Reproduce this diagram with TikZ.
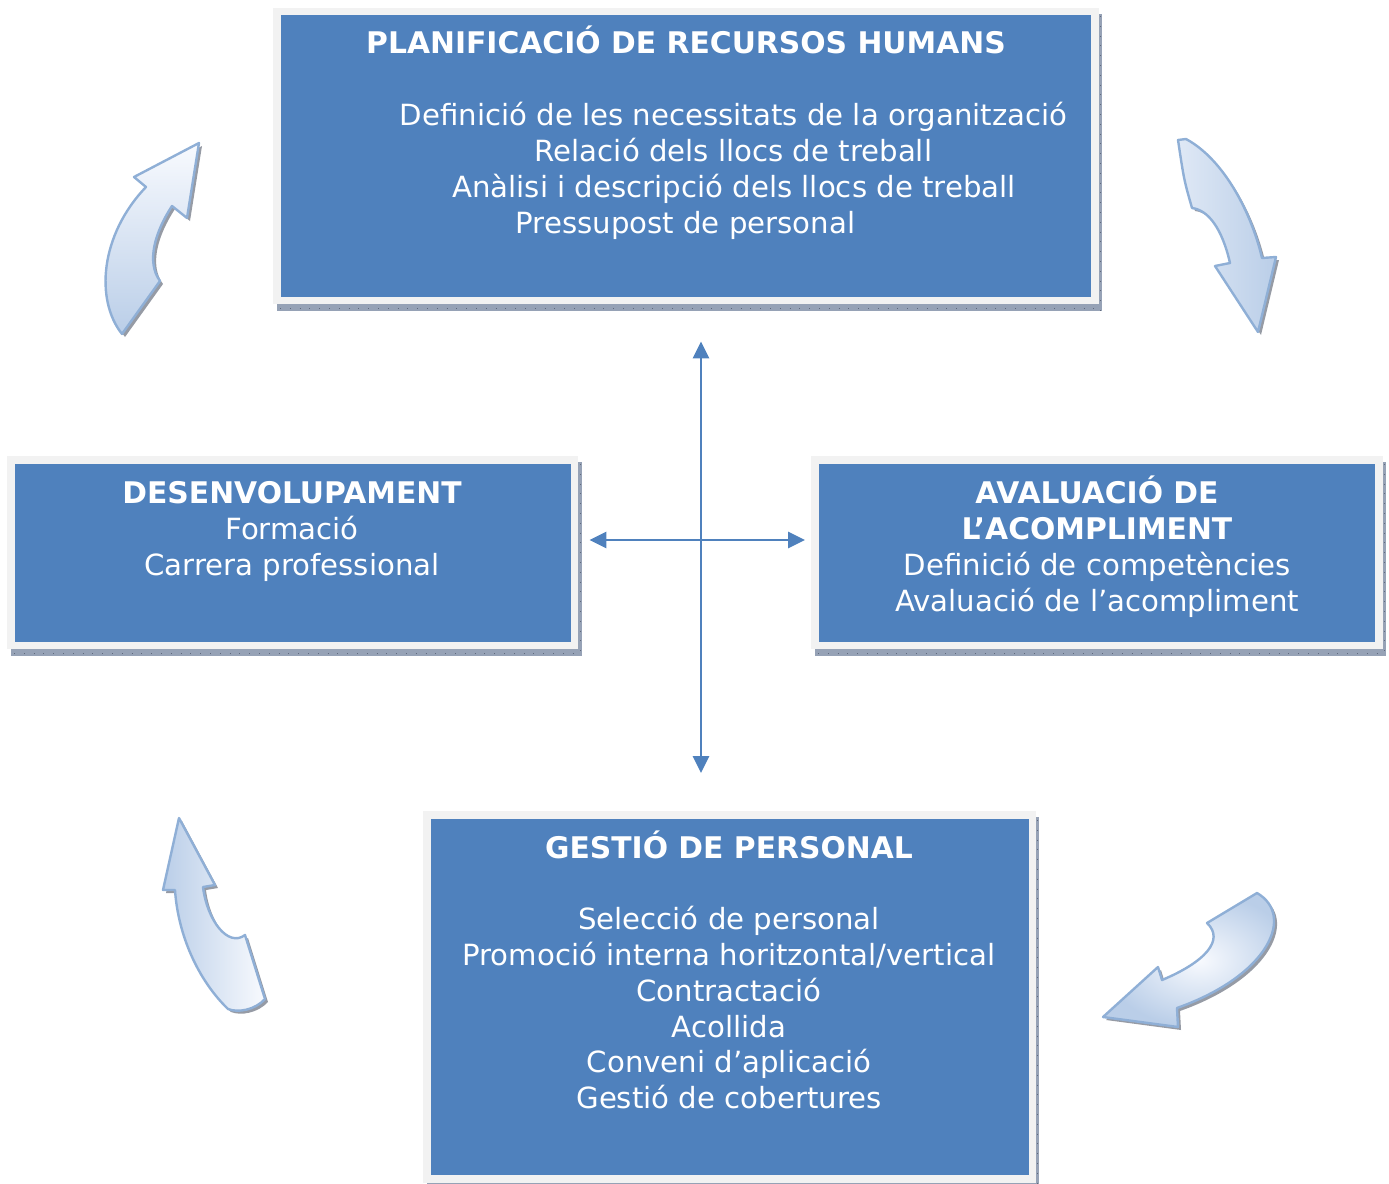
\documentclass[tikz,border=0pt]{standalone}
\usepackage{fontspec}
\setmainfont{DejaVu Sans}
\usetikzlibrary{arrows.meta}
\definecolor{boxblue}{HTML}{4F81BD}
\definecolor{framegray}{HTML}{F2F2F2}
\definecolor{shadowblue}{RGB}{150,162,182}
\definecolor{shadowtick}{RGB}{95,105,125}
\definecolor{arrowedge}{RGB}{143,175,214}
\definecolor{arrowlight}{RGB}{248,250,254}
\definecolor{arrowdark}{RGB}{186,206,232}
\definecolor{arrowshade}{RGB}{150,155,165}
\tikzset{
  frame/.style={fill=framegray},
  boxshadow/.style={fill=shadowblue},
  ticks/.style={draw=shadowtick, line width=0.8pt, dash pattern=on 0.8pt off 9pt},
  bluebox/.style={fill=boxblue, draw=none, inner sep=0pt},
  txt/.style={text=white, anchor=base, inner sep=0pt, font=\fontsize{29.2}{36}\selectfont},
  ttl/.style={txt, font=\bfseries\fontsize{29.8}{36}\selectfont},
  link/.style={draw=boxblue, line width=2.8pt, {Triangle[length=17pt,width=16pt]}-{Triangle[length=17pt,width=16pt]}},
  blockarrow/.style={draw=arrowedge, line width=2.4pt, line join=round},
  arrowshadow/.style={fill=arrowshade},
  % curved block arrows
  curveA/.style={insert path={(199,143) -- (134,177) -- (146,187)
      .. controls (100,235) and (95,300) .. (122,334)
      -- (160,281) .. controls (146,262) and (155,232) .. (172,206)
      -- (187,218) -- cycle}},
  curveB/.style={insert path={(1178,140) -- (1186,139)
      .. controls (1225,160) and (1252,215) .. (1262,258)
      -- (1276,257) -- (1258,332) -- (1215,266) -- (1230,263)
      .. controls (1222,228) and (1208,210) .. (1192,208)
      .. controls (1184,180) .. (1178,140) -- cycle}},
  curveC/.style={insert path={(179,818) -- (215,885) -- (203,887)
      .. controls (207,920) and (228,948) .. (245,935)
      -- (265,999) .. controls (255,1010) and (238,1013) .. (228,1009)
      .. controls (198,980) and (178,935) .. (175,890)
      -- (163,890) -- cycle}},
  curveD/.style={insert path={(1103,1017) -- (1158,967) -- (1162,980)
      .. controls (1205,962) and (1225,940) .. (1207,923)
      -- (1257,893) .. controls (1295,915) and (1270,975) .. (1177,1008)
      -- (1178,1027) -- cycle}},
}
\begin{document}
\begin{tikzpicture}[x=1pt,y=-1pt]
\useasboundingbox (0,0) rectangle (1389,1183);

% ---- boxes: textured shadow, light frame, blue panel ----
% planning
\fill[boxshadow] (277,14) rectangle (1102,311);
\draw[ticks] (280,308) -- (1102,308);
\draw[ticks] (1100.5,16) -- (1100.5,311);
\fill[frame] (273,8) rectangle (1099,304);
\node[bluebox, minimum width=810pt, minimum height=282pt, anchor=north west] (plan) at (281,15) {};
% development
\fill[boxshadow] (11,462) rectangle (582,656);
\draw[ticks] (14,653) -- (582,653);
\draw[ticks] (580,464) -- (580,656);
\fill[frame] (7,456) rectangle (578,649);
\node[bluebox, minimum width=556pt, minimum height=178pt, anchor=north west] (dev) at (15,464) {};
% performance evaluation
\fill[boxshadow] (815,462) rectangle (1386,656);
\draw[ticks] (818,653) -- (1386,653);
\draw[ticks] (1384.5,464) -- (1384.5,656);
\fill[frame] (811,456) rectangle (1383,649);
\node[bluebox, minimum width=556pt, minimum height=178pt, anchor=north west] (aval) at (819,464) {};
% staff management
\fill[boxshadow] (427,817) rectangle (1039,1190);
\draw[ticks] (1037.5,820) -- (1037.5,1183);
\fill[frame] (423,811) rectangle (1036,1183);
\node[bluebox, minimum width=598pt, minimum height=356pt, anchor=north west] (gest) at (431,819) {};

% ---- texts ----
\node[ttl] (plan-t) at (686,53) {PLANIFICACIÓ DE RECURSOS HUMANS};
\node[txt] (plan-1) at (733.5,125) {Definició de les necessitats de la organització};
\node[txt] (plan-2) at (733.5,161) {Relació dels llocs de treball};
\node[txt] (plan-3) at (734,197) {Anàlisi i descripció dels llocs de treball};
\node[txt] (plan-4) at (685.5,233) {Pressupost de personal};

\node[ttl] (dev-t) at (292,503) {DESENVOLUPAMENT};
\node[txt] (dev-1) at (292,539) {Formació};
\node[txt] (dev-2) at (292,575) {Carrera professional};

\node[ttl] (aval-t) at (1097,503) {AVALUACIÓ DE};
\node[ttl] (aval-t2) at (1097,539) {L’ACOMPLIMENT};
\node[txt] (aval-1) at (1097,575) {Definició de competències};
\node[txt] (aval-2) at (1097,611) {Avaluació de l’acompliment};

\node[ttl] (gest-t) at (729,858) {GESTIÓ DE PERSONAL};
\node[txt] (gest-1) at (729,929) {Selecció de personal};
\node[txt] (gest-2) at (729,965) {Promoció interna horitzontal/vertical};
\node[txt] (gest-3) at (729,1001) {Contractació};
\node[txt] (gest-4) at (729,1037) {Acollida};
\node[txt] (gest-5) at (729,1072) {Conveni d’aplicació};
\node[txt] (gest-6) at (729,1108) {Gestió de cobertures};

% ---- central cross of double arrows ----
\coordinate (hub) at (701,540);
\draw[link, shorten <=44pt, shorten >=46pt] (hub |- plan.south) -- (hub |- gest.north);
\draw[link, shorten <=18pt, shorten >=14pt] (hub -| dev.east) -- (hub -| aval.west);

% ---- curved block arrows of the cycle ----
\fill[arrowshadow, shift={(3,3)}, curveA];
\shade[top color=arrowlight, bottom color=arrowdark, curveA];
\draw[blockarrow, curveA];

\fill[arrowshadow, shift={(3,3)}, curveB];
\shade[left color=arrowlight!60!arrowdark, right color=arrowdark, curveB];
\draw[blockarrow, curveB];

\fill[arrowshadow, shift={(3,3)}, curveC];
\shade[left color=arrowdark, right color=arrowlight, curveC];
\draw[blockarrow, curveC];

\fill[arrowshadow, shift={(3,3)}, curveD];
\shade[inner color=arrowlight, outer color=arrowdark, curveD];
\draw[blockarrow, curveD];
\end{tikzpicture}
\end{document}
